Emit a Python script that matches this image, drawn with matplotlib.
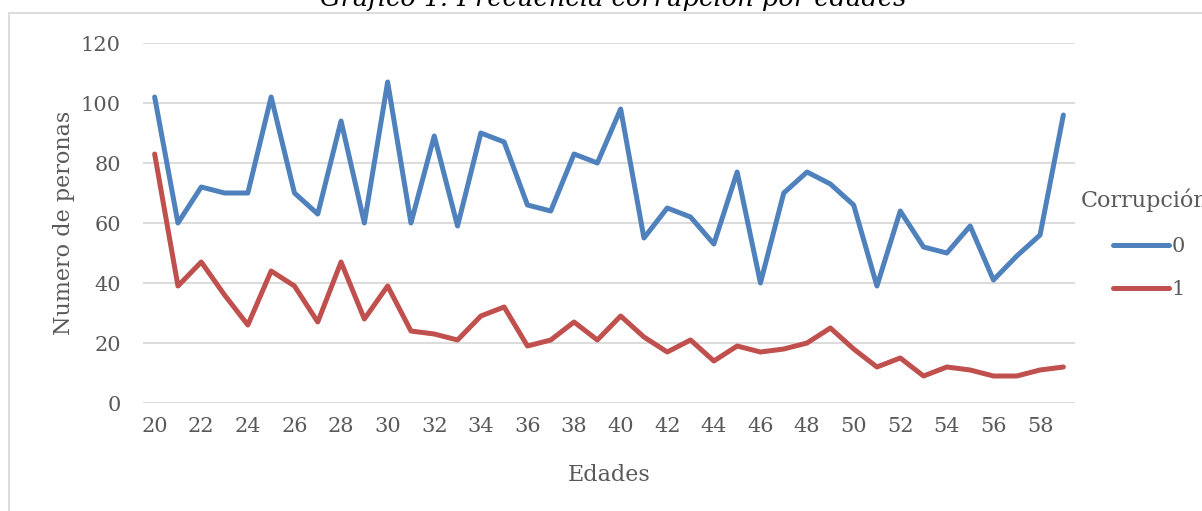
import matplotlib
matplotlib.use("Agg")
import matplotlib.pyplot as plt
from matplotlib.patches import Rectangle

edades = list(range(20, 60))
serie_0 = [102, 60, 72, 70, 70, 102, 70, 63, 94, 60,
           107, 60, 89, 59, 90, 87, 66, 64, 83, 80,
           98, 55, 65, 62, 53, 77, 40, 70, 77, 73,
           66, 39, 64, 52, 50, 59, 41, 49, 56, 96]
serie_1 = [83, 39, 47, 36, 26, 44, 39, 27, 47, 28,
           39, 24, 23, 21, 29, 32, 19, 21, 27, 21,
           29, 22, 17, 21, 14, 19, 17, 18, 20, 25,
           18, 12, 15, 9, 12, 11, 9, 9, 11, 12]
series_labels = ["0", "1"]
y_ticks = [0, 20, 40, 60, 80, 100, 120]
x_tick_labels = [str(e) for e in edades[::2]]
titulo = "Gráfico 1: Frecuencia corrupción por edades"
titulo_leyenda = "Corrupción"

plt.rcParams['font.family'] = ['DejaVu Serif']
W, H = 1202, 511
fig = plt.figure(figsize=(W / 100, H / 100), dpi=100)
fig.patch.set_facecolor("white")

# chart frame
fig.patches.append(Rectangle((9 / W, -0.1), 1.2, 1 - 13 / H + 0.1, transform=fig.transFigure,
                             fill=False, edgecolor="#D9D9D9", linewidth=1.3))

ax = fig.add_axes([143 / W, (H - 403) / H, 932 / W, 360 / H])
x = list(range(len(edades)))
ax.plot(x, serie_0, color="#4F81BD", lw=3.6, solid_capstyle="round", solid_joinstyle="round",
        label=series_labels[0], zorder=3)
ax.plot(x, serie_1, color="#C0504D", lw=3.6, solid_capstyle="round", solid_joinstyle="round",
        label=series_labels[1], zorder=3)

ax.set_xlim(-0.5, len(edades) - 0.5)
ax.set_ylim(0, 120)
ax.set_yticks(y_ticks)
ax.set_xticks(x[::2])
ax.set_xticklabels(x_tick_labels)
ax.yaxis.grid(True, color="#D9D9D9", lw=1.3)
ax.set_axisbelow(True)
for s in ax.spines.values():
    s.set_visible(False)
ax.tick_params(axis="both", length=0, labelsize=15, colors="#595959")
ax.tick_params(axis="y", pad=16)
ax.tick_params(axis="x", pad=10)
ax.set_xlabel("Edades", fontsize=16, color="#595959", labelpad=20)
ax.set_ylabel("Numero de peronas", fontsize=16, color="#595959", labelpad=4)

leg = fig.legend(loc="upper left", bbox_to_anchor=(1113 / W, 1 - 237 / H),
                 frameon=False, fontsize=15, handlelength=2.7,
                 handletextpad=0.1, labelspacing=1.15, borderaxespad=0, borderpad=0)
for t in leg.get_texts():
    t.set_color("#595959")
for l in leg.get_lines():
    l.set_linewidth(3.6)
    l.set_solid_capstyle("round")
fig.text(1081 / W, 1 - 207 / H, titulo_leyenda, ha="left", va="baseline", fontsize=16,
         color="#595959")

fig.text(613 / W, 1 - 6 / H, titulo, ha="center", va="baseline", fontsize=18.5,
         style="italic", color="black")

fig.savefig("out.png", dpi=100)
